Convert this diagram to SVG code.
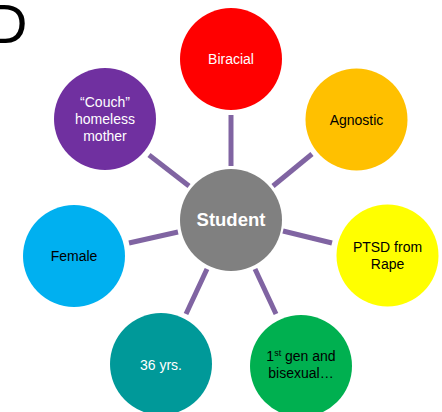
<svg xmlns="http://www.w3.org/2000/svg" width="442" height="412" viewBox="0 0 442 412">
<style>
.lbl{font-family:"Liberation Sans",Arial,sans-serif;font-size:14px;text-anchor:middle}
.w{fill:#FFFFFF}
.k{fill:#000000}
.conn line{stroke:#8064A2;stroke-width:5;stroke-linecap:butt}
</style>
<rect width="442" height="412" fill="#FFFFFF"/>
<text x="-13" y="43" font-family="'Liberation Sans',Arial,sans-serif" font-size="56" fill="#000000">D</text>
<g id="connectors" class="conn">
<line x1="231" y1="115" x2="231" y2="166"/>
<line x1="273" y1="186" x2="312" y2="154"/>
<line x1="149" y1="155" x2="189" y2="186"/>
<line x1="129" y1="243" x2="178" y2="232"/>
<line x1="283" y1="231" x2="332" y2="243"/>
<line x1="207" y1="269" x2="186" y2="314"/>
<line x1="255" y1="269" x2="276" y2="314"/>
</g>
<g id="biracial">
<circle cx="231" cy="59" r="51" fill="#FF0000"/>
<text class="lbl w" x="231" y="64">Biracial</text>
</g>
<g id="agnostic">
<circle cx="356.5" cy="119.5" r="51" fill="#FFC000"/>
<text class="lbl k" x="356.5" y="125">Agnostic</text>
</g>
<g id="couch">
<circle cx="105" cy="119" r="51" fill="#7030A0"/>
<text class="lbl w" x="105" y="107">“Couch”</text>
<text class="lbl w" x="105" y="124">homeless</text>
<text class="lbl w" x="105" y="141">mother</text>
</g>
<g id="student">
<circle cx="231" cy="220" r="51" fill="#808080"/>
<text class="w" x="231" y="226" font-family="'Liberation Sans',Arial,sans-serif" font-size="18.5" font-weight="bold" text-anchor="middle">Student</text>
</g>
<g id="female">
<circle cx="74" cy="256" r="51" fill="#00B0F0"/>
<text class="lbl k" x="74" y="261">Female</text>
</g>
<g id="ptsd">
<circle cx="387.5" cy="255.5" r="51" fill="#FFFF00"/>
<text class="lbl k" x="387.5" y="252">PTSD from</text>
<text class="lbl k" x="387.5" y="269">Rape</text>
</g>
<g id="age">
<circle cx="161" cy="364" r="51" fill="#009999"/>
<text class="lbl w" x="161" y="370">36 yrs.</text>
</g>
<g id="firstgen">
<circle cx="301" cy="366" r="51" fill="#00B050"/>
<text class="lbl k" x="301" y="361">1<tspan font-size="9" dy="-5">st</tspan><tspan dy="5"> gen and</tspan></text>
<text class="lbl k" x="301" y="378">bisexual…</text>
</g>
</svg>
